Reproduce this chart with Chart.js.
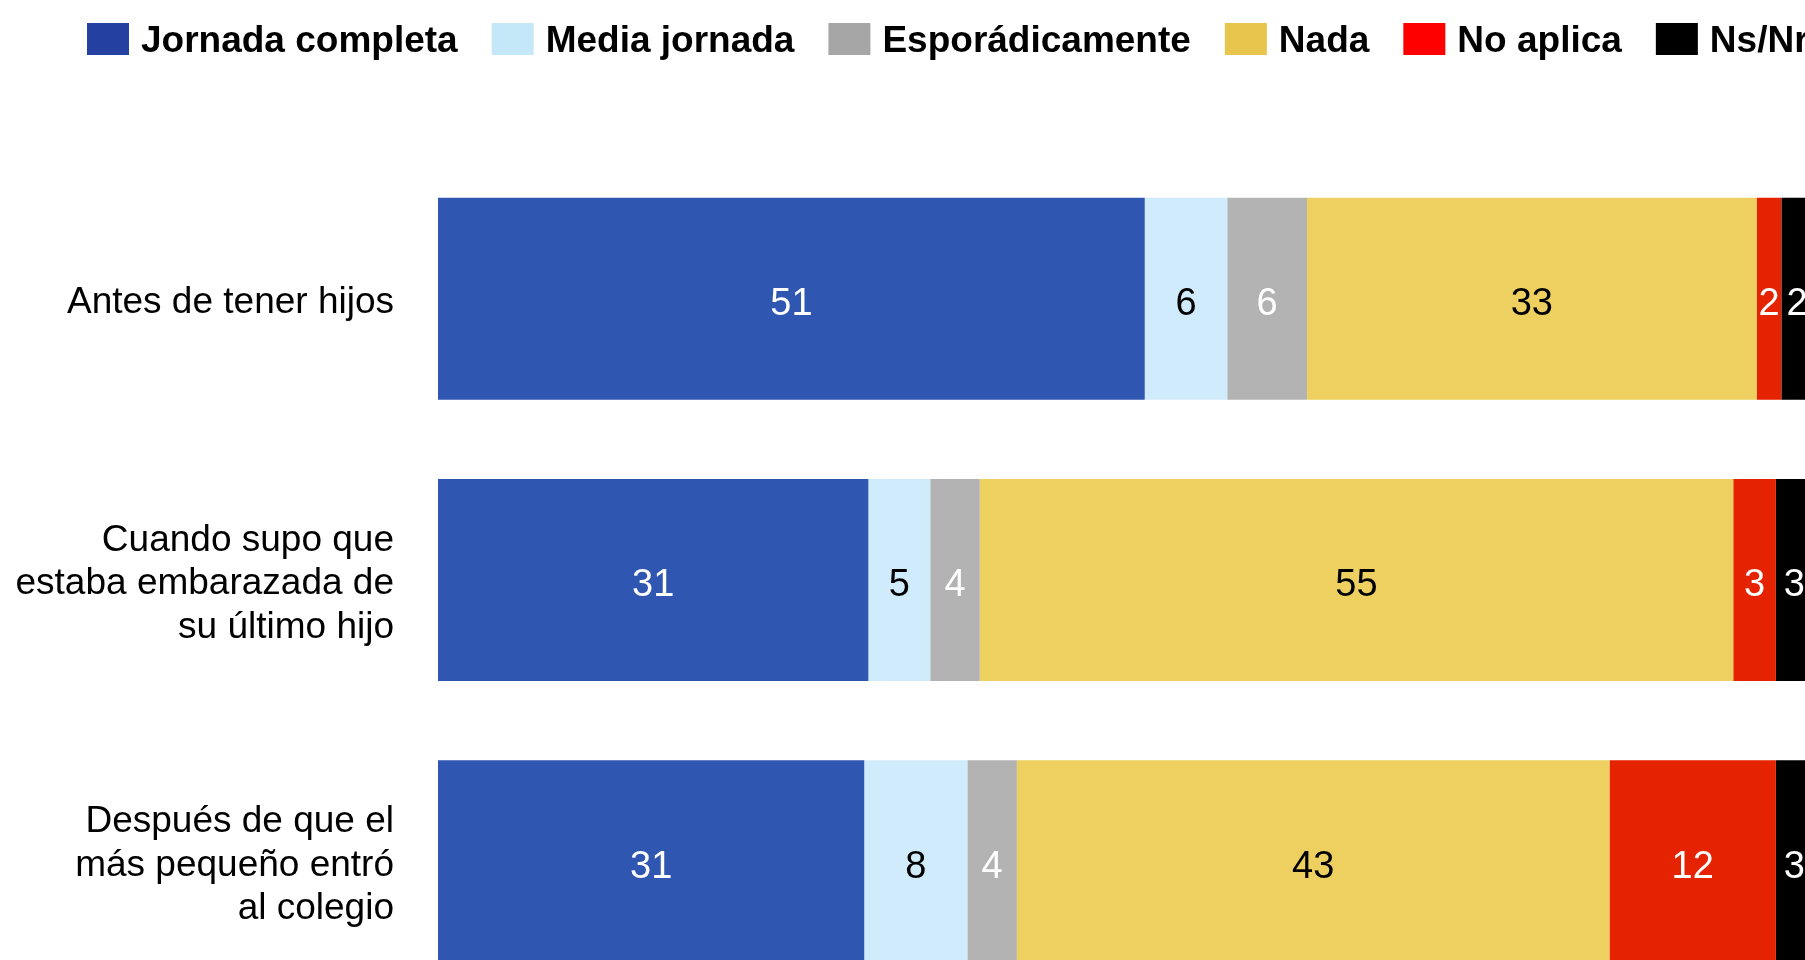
<!DOCTYPE html>
<html>
<head>
<meta charset="utf-8">
<script src="https://cdn.jsdelivr.net/npm/chart.js@4.4.1/dist/chart.umd.min.js"></script>
<style>
  html, body { margin: 0; padding: 0; background: #fff; overflow: hidden; }
  #wrap { position: absolute; left: 0; top: 0; }
</style>
</head>
<body>
<div id="wrap"><canvas id="chart" width="1813" height="1072"></canvas></div>
<script>
// === Datos ===
const categories = [
  "Antes de tener hijos",
  ["Cuando supo que", "estaba embarazada de", "su último hijo"],
  ["Después de que el", "más pequeño entró", "al colegio"]
];

const seriesNames = ["Jornada completa", "Media jornada", "Esporádicamente", "Nada", "No aplica", "Ns/Nr"];

const jornadaCompleta = [51.4, 31.3, 31.0];
const mediaJornada = [6.0, 4.5, 7.5];
const esporadicamente = [5.8, 3.6, 3.6];
const nada = [32.7, 54.8, 43.1];
const noAplica = [1.8, 3.1, 12.1];
const nsNr = [2.3, 2.7, 2.7];

const barColors = ["#2F56B0", "#D0ECFC", "#B3B3B3", "#EDD060", "#E52300", "#000000"];
const legendColors = ["#2440A0", "#C5E8F9", "#A6A6A6", "#E8C64E", "#FF0000", "#000000"];
const labelColors = ["#fff", "#000", "#fff", "#000", "#fff", "#fff"];

const FONT = "'Liberation Sans', Arial, sans-serif";
const seriesData = [jornadaCompleta, mediaJornada, esporadicamente, nada, noAplica, nsNr];

// leyenda arriba: cuadro + texto en negrita
const topLegend = {
  id: "topLegend",
  afterDraw(chart) {
    const ctx = chart.ctx;
    ctx.save();
    ctx.font = "bold 37px " + FONT;
    ctx.textAlign = "left";
    ctx.textBaseline = "alphabetic";
    let x = 87;
    chart.data.datasets.forEach((ds, i) => {
      ctx.fillStyle = legendColors[i];
      ctx.fillRect(x, 23, 42, 32);
      ctx.fillStyle = "#000";
      ctx.fillText(ds.label, x + 54, 52);
      x += 42 + 12 + ctx.measureText(ds.label).width + 34;
    });
    ctx.restore();
  }
};

// valores dentro de cada tramo
const valueLabels = {
  id: "valueLabels",
  afterDatasetsDraw(chart) {
    const ctx = chart.ctx;
    ctx.save();
    ctx.font = "38px " + FONT;
    ctx.textAlign = "center";
    ctx.textBaseline = "middle";
    chart.data.datasets.forEach((ds, i) => {
      chart.getDatasetMeta(i).data.forEach((bar, j) => {
        ctx.fillStyle = labelColors[i];
        ctx.fillText(Math.round(ds.data[j]), (bar.x + bar.base) / 2, bar.y + 6);
      });
    });
    ctx.restore();
  }
};

new Chart(document.getElementById("chart"), {
  type: "bar",
  data: {
    labels: categories,
    datasets: seriesNames.map((name, i) => ({
      label: name,
      data: seriesData[i],
      backgroundColor: barColors[i],
      borderWidth: 0,
      categoryPercentage: 1,
      barPercentage: 0.718
    }))
  },
  options: {
    indexAxis: "y",
    responsive: false,
    animation: false,
    layout: { padding: { top: 158, bottom: 70, left: 0, right: 0 } },
    plugins: { legend: { display: false }, tooltip: { enabled: false } },
    scales: {
      x: { stacked: true, min: 0, max: 100, display: false },
      y: {
        stacked: true,
        grid: { display: false, drawTicks: false },
        border: { display: false },
        ticks: {
          color: "#000",
          padding: 44,
          labelOffset: 4,
          font: { family: FONT, size: 37, lineHeight: 1.18 }
        },
        afterFit(axis) { axis.width = 438; }
      }
    }
  },
  plugins: [valueLabels, topLegend]
});
</script>
</body>
</html>
